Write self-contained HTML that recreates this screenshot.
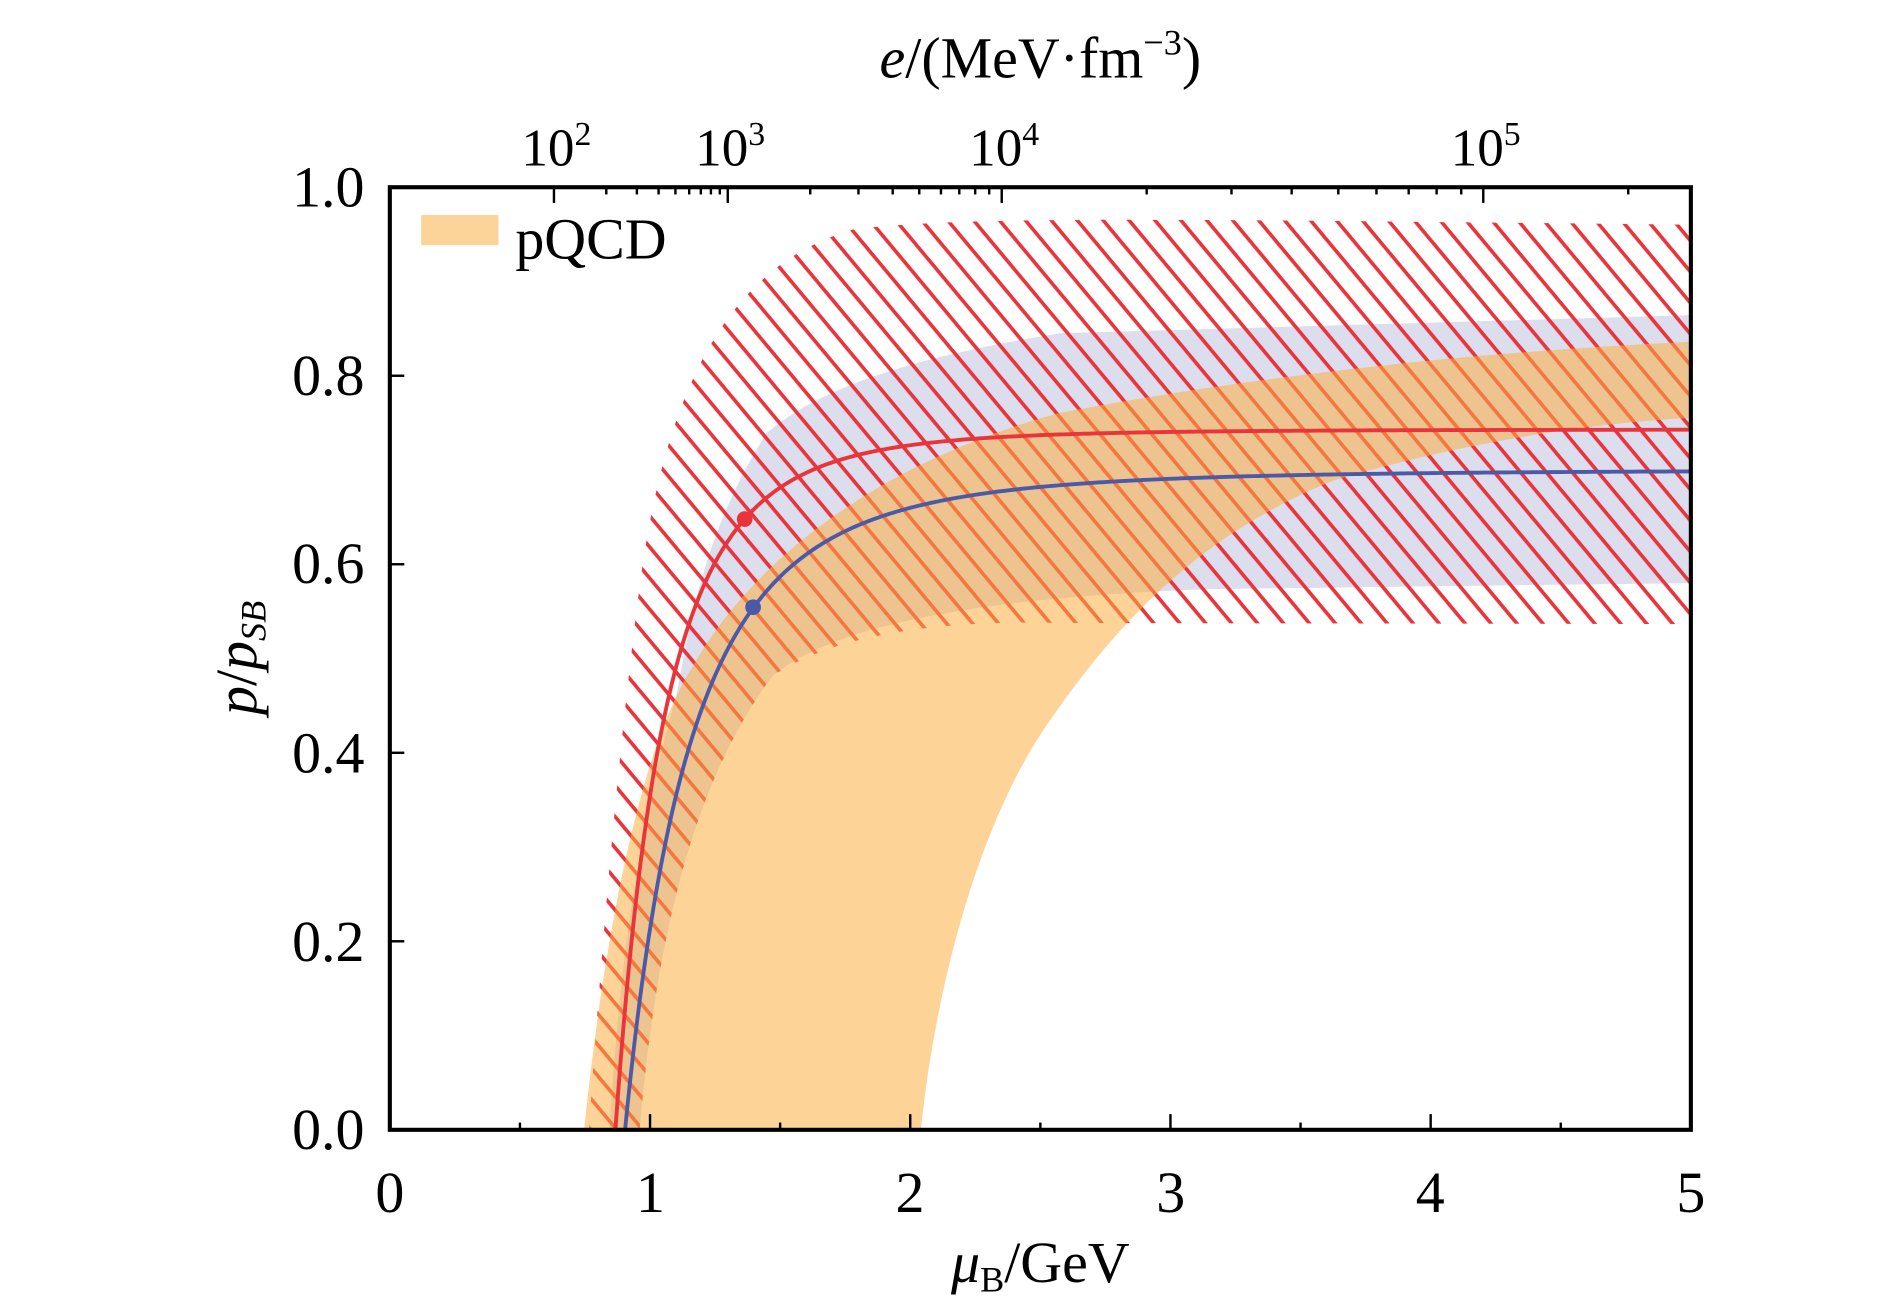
<!DOCTYPE html>
<html><head><meta charset="utf-8"><style>
html,body{margin:0;padding:0;background:#fff;}
svg{display:block;}
text{font-family:"Liberation Serif",serif;fill:#000;}
</style></head><body>
<svg id="s" width="1890" height="1311" viewBox="0 0 1566 1086" xmlns="http://www.w3.org/2000/svg">
<defs>
<pattern id="hatch" patternUnits="userSpaceOnUse" width="16.5" height="40" patternTransform="rotate(-39.8)">
<line x1="8" y1="-5" x2="8" y2="45" stroke="#e8343a" stroke-width="3"/>
</pattern>
<clipPath id="plot"><rect x="323" y="155" width="1078" height="781"/></clipPath>
</defs>
<g clip-path="url(#plot)">
<path fill="#dcdeee" d="M505,936 C512,820 525,700 561,574 C574,497 590,430 635,359 C680,320 760,295 878,276 L1401,261 L1401,483 L1000,488 C850,494 700,510 640,560 C580,640 545,760 530,936 Z"/>
<path fill="url(#hatch)" d="M488,936 C500,760 515,600 530,486 C550,330 600,220 707,190 C800,178 1000,182 1401,186 L1401,517 L878,516 C800,514 700,520 640,560 C580,640 545,760 530,936 Z"/>
<path fill="rgb(251,175,66)" fill-opacity="0.55" d="M484,936 C500,780 530,620 574,552 C620,470 720,385 878,342 C1100,300 1300,288 1401,283 L1401,346 C1300,352 1200,370 1105,398 C1000,440 930,510 872,594 C810,680 775,820 763,936 Z"/>
<path id="red" fill="none" stroke="#e8343a" stroke-width="3.2"/>
<path id="blue" fill="none" stroke="#4a5aa8" stroke-width="3.2"/>
<circle cx="617" cy="430" r="6.5" fill="#e8343a"/>
<circle cx="624" cy="503" r="6.5" fill="#4a5aa8"/>
</g>
<g id="ticks" stroke="#000" stroke-width="2"></g>
<rect x="323" y="155" width="1078" height="781" fill="none" stroke="#000" stroke-width="3.4"/>
<rect x="349" y="178" width="64" height="25" fill="#fcd398"/>
<text x="427" y="214" font-size="48">pQCD</text>
<g font-size="48" text-anchor="end">
<text x="302" y="952">0.0</text>
<text x="302" y="796">0.2</text>
<text x="302" y="640">0.4</text>
<text x="302" y="483">0.6</text>
<text x="302" y="327">0.8</text>
<text x="302" y="171">1.0</text>
</g>
<g font-size="48" text-anchor="middle">
<text x="323" y="1004">0</text>
<text x="539" y="1004">1</text>
<text x="754" y="1004">2</text>
<text x="970" y="1004">3</text>
<text x="1185" y="1004">4</text>
<text x="1401" y="1004">5</text>
</g>
<text x="862" y="1062" font-size="48" text-anchor="middle"><tspan font-style="italic">μ</tspan><tspan font-size="30" dy="8">B</tspan><tspan dy="-8">/GeV</tspan></text>
<text transform="translate(212,545) rotate(-90)" font-size="48" text-anchor="middle"><tspan font-style="italic">p</tspan>/<tspan font-style="italic">p</tspan><tspan font-style="italic" font-size="30" dy="8">SB</tspan></text>
<g font-size="44" text-anchor="middle">
<text x="461" y="137">10<tspan font-size="28" dy="-17">2</tspan></text>
<text x="605" y="137">10<tspan font-size="28" dy="-17">3</tspan></text>
<text x="832" y="137">10<tspan font-size="28" dy="-17">4</tspan></text>
<text x="1231" y="137">10<tspan font-size="28" dy="-17">5</tspan></text>
</g>
<text x="862" y="64" font-size="48" text-anchor="middle"><tspan font-style="italic">e</tspan>/(MeV·fm<tspan font-size="30" dy="-19">−3</tspan><tspan dy="19">)</tspan></text>
</svg>
<script>
function curve(A,m0,n){var d="";for(var i=0;i<=400;i++){var m=m0+(5-m0)*Math.pow(i/400,2);var p=A*(1-Math.pow(m0/m,n));var x=323+215.6*m,y=936-781*p;d+=(i?"L":"M")+x.toFixed(2)+","+y.toFixed(2);}return d;}
document.getElementById("red").setAttribute("d",curve(0.743,0.867,4.54));
document.getElementById("blue").setAttribute("d",curve(0.70,0.904,3.6));
var g=document.getElementById("ticks"),s="";
function ln(x1,y1,x2,y2){s+='<line x1="'+x1+'" y1="'+y1+'" x2="'+x2+'" y2="'+y2+'"/>';}
for(var i=0;i<=10;i++){var x=323+107.8*i,L=(i%2==0)?13:6;ln(x,936,x,936-L);}
for(var i=0;i<=5;i++){var y=936-156.2*i;ln(323,y,335,y);}
var maj=[[2,459],[3,603],[4,830],[5,1229]];
for(var k=0;k<maj.length;k++)ln(maj[k][1],155,maj[k][1],168);
for(var k=0;k<3;k++){var a=maj[k][1],b=maj[k+1][1];for(var j=2;j<10;j++){var x=a+(b-a)*Math.log10(j);ln(x,155,x,161);}}
for(var j=2;j<10;j++){var x=1229+(1229-830)*Math.log10(j);if(x<1400)ln(x,155,x,161);}
g.innerHTML=s;
</script>
</body></html>
